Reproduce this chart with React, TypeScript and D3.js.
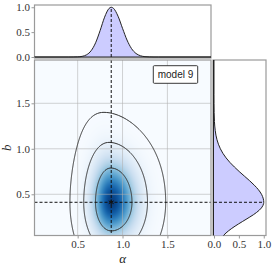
import { useEffect, useRef } from 'react'
import * as d3 from 'd3'

// axis limits
const ALPHA_DOMAIN = [0.019, 1.986]
const B_DOMAIN = [0.047, 1.976]
const PDF_DOMAIN = [-0.02, 1.045]

const ALPHA_TICKS = [0.5, 1.0, 1.5]
const B_TICKS = [0.5, 1.0, 1.5]
const PDF_TICKS = [0.0, 0.5, 1.0]

// best-fit point (alpha, b)
const PEAK = [0.874, 0.412]

// 2D posterior shape: sigma of b below/above peak, sigma of alpha left/right,
// drift of the alpha centre for large b
const B_SIGMA = [0.242, 0.29]
const ALPHA_SIGMA = [0.135, 0.178]
const ALPHA_DRIFT = 0.087

// contour levels (relative density)
const LEVELS = [0.43, 0.076, 0.003]

// marginal of alpha (top panel)
const TOP_ALPHA = [0.0, 0.4, 0.45, 0.5, 0.55, 0.6, 0.65, 0.7, 0.75, 0.8, 0.85, 0.874, 0.9, 0.95, 1.0, 1.05, 1.1, 1.15, 1.2, 1.25, 1.3, 1.35, 1.4, 2.0]
const TOP_PDF = [0, 0, 0.001, 0.003, 0.013, 0.045, 0.126, 0.286, 0.53, 0.8, 0.976, 1.0, 0.977, 0.82, 0.576, 0.341, 0.17, 0.071, 0.025, 0.007, 0.002, 0, 0, 0]

// marginal of b (right panel)
const SIDE_B = [0.0, 0.05, 0.1, 0.15, 0.2, 0.25, 0.3, 0.35, 0.4, 0.412, 0.45, 0.5, 0.55, 0.6, 0.65, 0.7, 0.75, 0.8, 0.85, 0.9, 0.95, 1.0, 1.05, 1.1, 1.15, 1.2, 1.25, 1.3, 1.4, 1.5, 1.6, 2.0]
const SIDE_PDF = [0.12, 0.195, 0.296, 0.424, 0.57, 0.72, 0.855, 0.953, 0.998, 1.0, 0.991, 0.955, 0.893, 0.81, 0.714, 0.61, 0.507, 0.41, 0.32, 0.243, 0.179, 0.128, 0.089, 0.06, 0.039, 0.025, 0.015, 0.009, 0.003, 0.001, 0, 0]

const LABEL = 'model 9'

const W = 274
const H = 268
const MAIN = { left: 34.5, right: 211, top: 60, bottom: 235.5 }
const TOP = { top: 5, bottom: 58 }
const SIDE = { left: 213, right: 266 }

const SPINE = '#9a9a9a'
const INK = '#222'
const FILL = '#ccccff'
const SERIF = '"Liberation Serif", "DejaVu Serif", serif'
const SANS = '"Liberation Sans", Arial, sans-serif'

function density(a: number, b: number) {
  const db = b - PEAK[1]
  const sb = db < 0 ? B_SIGMA[0] : B_SIGMA[1]
  const centre = PEAK[0] - (db > 0 ? ALPHA_DRIFT * db * db * db : 0)
  const da = a - centre
  const sa = da < 0 ? ALPHA_SIGMA[0] : ALPHA_SIGMA[1]
  return Math.exp(-0.5 * (db / sb) ** 2 - 0.5 * (da / sa) ** 2)
}

export default function App() {
  const svgRef = useRef<SVGSVGElement>(null)

  useEffect(() => {
    if (!svgRef.current) return
    const svg = d3.select(svgRef.current)
    svg.selectAll('*').remove()

    const x = d3.scaleLinear().domain(ALPHA_DOMAIN).range([MAIN.left, MAIN.right])
    const y = d3.scaleLinear().domain(B_DOMAIN).range([MAIN.bottom, MAIN.top])
    const pyTop = d3.scaleLinear().domain(PDF_DOMAIN).range([TOP.bottom, TOP.top])
    const pxSide = d3.scaleLinear().domain(PDF_DOMAIN).range([SIDE.left, SIDE.right])

    const defs = svg.append('defs')
    defs.append('clipPath').attr('id', 'clip-main')
      .append('rect')
      .attr('x', MAIN.left).attr('y', MAIN.top)
      .attr('width', MAIN.right - MAIN.left).attr('height', MAIN.bottom - MAIN.top)
    defs.append('clipPath').attr('id', 'clip-top')
      .append('rect')
      .attr('x', MAIN.left).attr('y', TOP.top)
      .attr('width', MAIN.right - MAIN.left).attr('height', TOP.bottom - TOP.top)
    defs.append('clipPath').attr('id', 'clip-side')
      .append('rect')
      .attr('x', SIDE.left).attr('y', MAIN.top)
      .attr('width', SIDE.right - SIDE.left).attr('height', MAIN.bottom - MAIN.top)

    // ---------- main panel ----------
    const main = svg.append('g').attr('clip-path', 'url(#clip-main)')
    main.append('rect')
      .attr('x', MAIN.left).attr('y', MAIN.top)
      .attr('width', MAIN.right - MAIN.left).attr('height', MAIN.bottom - MAIN.top)
      .attr('fill', d3.interpolateBlues(0))

    // heatmap, one cell per pixel
    const cells: { x: number; y: number; v: number }[] = []
    for (let i = Math.floor(MAIN.left); i < Math.ceil(MAIN.right); i++) {
      for (let j = Math.floor(MAIN.top); j < Math.ceil(MAIN.bottom); j++) {
        const v = density(x.invert(i + 0.5), y.invert(j + 0.5))
        if (v > 0.004) cells.push({ x: i, y: j, v })
      }
    }
    main.append('g')
      .attr('shape-rendering', 'crispEdges')
      .selectAll('rect')
      .data(cells)
      .join('rect')
      .attr('x', d => d.x).attr('y', d => d.y)
      .attr('width', 1).attr('height', 1)
      .attr('fill', d => d3.interpolateBlues(d.v * 0.95))

    // grid
    main.append('g').selectAll('line')
      .data(ALPHA_TICKS).join('line')
      .attr('x1', d => x(d)).attr('x2', d => x(d))
      .attr('y1', MAIN.top).attr('y2', MAIN.bottom)
      .attr('stroke', '#b0b0b0').attr('stroke-opacity', 0.7).attr('stroke-width', 0.8)
    main.append('g').selectAll('line')
      .data(B_TICKS).join('line')
      .attr('x1', MAIN.left).attr('x2', MAIN.right)
      .attr('y1', d => y(d)).attr('y2', d => y(d))
      .attr('stroke', '#b0b0b0').attr('stroke-opacity', 0.7).attr('stroke-width', 0.8)

    // contours, grid padded beyond the panel so the clip cuts them
    const pad = 12
    const gx0 = MAIN.left - pad
    const gy0 = MAIN.top - pad
    const nx = Math.round(MAIN.right - MAIN.left + 2 * pad)
    const ny = Math.round(MAIN.bottom - MAIN.top + 2 * pad)
    const values = new Array(nx * ny)
    for (let j = 0; j < ny; j++) {
      for (let i = 0; i < nx; i++) {
        values[j * nx + i] = density(x.invert(gx0 + i + 0.5), y.invert(gy0 + j + 0.5))
      }
    }
    const contours = d3.contours().size([nx, ny]).thresholds(LEVELS)(values)
    const toPixels = d3.geoTransform({
      point(px, py) {
        this.stream.point(gx0 + px, gy0 + py)
      },
    })
    main.append('g').selectAll('path')
      .data(contours).join('path')
      .attr('d', d3.geoPath(toPixels))
      .attr('fill', 'none')
      .attr('stroke', '#333')
      .attr('stroke-width', 1)

    // crosshair at the best-fit point
    main.append('line')
      .attr('x1', x(PEAK[0])).attr('x2', x(PEAK[0]))
      .attr('y1', MAIN.top).attr('y2', MAIN.bottom)
      .attr('stroke', '#111').attr('stroke-width', 1).attr('stroke-dasharray', '3,2')
    main.append('line')
      .attr('x1', MAIN.left).attr('x2', MAIN.right)
      .attr('y1', y(PEAK[1])).attr('y2', y(PEAK[1]))
      .attr('stroke', '#111').attr('stroke-width', 1).attr('stroke-dasharray', '3,2')
    const star = (d3 as any).symbolAsterisk ?? d3.symbolCross
    main.append('path')
      .attr('d', d3.symbol(star, 22)())
      .attr('transform', `translate(${x(PEAK[0])},${y(PEAK[1])})`)
      .attr('fill', 'none').attr('stroke', '#111').attr('stroke-width', 1)

    // legend box
    const box = svg.append('g').attr('transform', `translate(${MAIN.right - 57.7},${MAIN.top + 5.7})`)
    box.append('rect')
      .attr('width', 44.4).attr('height', 17.6)
      .attr('fill', '#fff').attr('stroke', '#222').attr('stroke-width', 0.9).attr('rx', 1)
    box.append('text')
      .attr('x', 22.2).attr('y', 12.4)
      .attr('text-anchor', 'middle')
      .attr('font-family', SANS).attr('font-size', 10)
      .attr('fill', INK)
      .text(LABEL)

    // ---------- spines ----------
    const frames = [
      [MAIN.left, TOP.top, MAIN.right, TOP.bottom],
      [MAIN.left, MAIN.top, MAIN.right, MAIN.bottom],
      [SIDE.left, MAIN.top, SIDE.right, MAIN.bottom],
    ]
    svg.append('g').selectAll('rect')
      .data(frames).join('rect')
      .attr('x', d => d[0]).attr('y', d => d[1])
      .attr('width', d => d[2] - d[0]).attr('height', d => d[3] - d[1])
      .attr('fill', 'none').attr('stroke', SPINE).attr('stroke-width', 1.2)

    // ---------- top panel: alpha marginal ----------
    const topPts = TOP_ALPHA.map((a, i) => [a, TOP_PDF[i]] as [number, number])
    const top = svg.append('g').attr('clip-path', 'url(#clip-top)')
    top.append('path')
      .datum(topPts)
      .attr('d', d3.area<[number, number]>()
        .x(d => x(d[0])).y0(pyTop(0)).y1(d => pyTop(d[1]))
        .curve(d3.curveMonotoneX))
      .attr('fill', FILL)
    top.append('line')
      .attr('x1', MAIN.left).attr('x2', MAIN.right)
      .attr('y1', pyTop(0)).attr('y2', pyTop(0))
      .attr('stroke', INK).attr('stroke-width', 1)
    top.append('path')
      .datum(topPts)
      .attr('d', d3.line<[number, number]>()
        .x(d => x(d[0])).y(d => pyTop(d[1]))
        .curve(d3.curveMonotoneX))
      .attr('fill', 'none').attr('stroke', INK).attr('stroke-width', 1)
    top.append('line')
      .attr('x1', x(PEAK[0])).attr('x2', x(PEAK[0]))
      .attr('y1', pyTop(0)).attr('y2', pyTop(1))
      .attr('stroke', '#111').attr('stroke-width', 1).attr('stroke-dasharray', '3,2')

    // ---------- side panel: b marginal ----------
    const sidePts = SIDE_B.map((b, i) => [b, SIDE_PDF[i]] as [number, number])
    const side = svg.append('g').attr('clip-path', 'url(#clip-side)')
    side.append('path')
      .datum(sidePts)
      .attr('d', d3.area<[number, number]>()
        .y(d => y(d[0])).x0(pxSide(0)).x1(d => pxSide(d[1]))
        .curve(d3.curveMonotoneY))
      .attr('fill', FILL)
    side.append('line')
      .attr('x1', pxSide(0) - 0.5).attr('x2', pxSide(0) - 0.5)
      .attr('y1', MAIN.top).attr('y2', MAIN.bottom)
      .attr('stroke', INK).attr('stroke-width', 1)
    side.append('path')
      .datum(sidePts)
      .attr('d', d3.line<[number, number]>()
        .x(d => pxSide(d[1])).y(d => y(d[0]))
        .curve(d3.curveMonotoneY))
      .attr('fill', 'none').attr('stroke', INK).attr('stroke-width', 1)
    side.append('line')
      .attr('x1', pxSide(0)).attr('x2', pxSide(1))
      .attr('y1', y(PEAK[1])).attr('y2', y(PEAK[1]))
      .attr('stroke', '#111').attr('stroke-width', 1).attr('stroke-dasharray', '3,2')

    // ---------- axes ----------
    const styleAxis = (g: d3.Selection<SVGGElement, unknown, null, undefined>) => {
      g.select('.domain').remove()
      g.selectAll('line').attr('stroke', SPINE)
      g.selectAll('text').attr('font-family', SERIF).attr('font-size', 11).attr('fill', '#333')
    }
    svg.append('g')
      .attr('transform', `translate(0,${MAIN.bottom})`)
      .call(d3.axisBottom(x).tickValues(ALPHA_TICKS).tickFormat(d3.format('.1f')).tickSize(3).tickPadding(2))
      .call(styleAxis)
    svg.append('g')
      .attr('transform', `translate(${MAIN.left},0)`)
      .call(d3.axisLeft(y).tickValues(B_TICKS).tickFormat(d3.format('.1f')).tickSize(3).tickPadding(1.5))
      .call(styleAxis)
    svg.append('g')
      .attr('transform', `translate(${MAIN.left},0)`)
      .call(d3.axisLeft(pyTop).tickValues(PDF_TICKS).tickFormat(d3.format('.1f')).tickSize(3).tickPadding(1.5))
      .call(styleAxis)
    svg.append('g')
      .attr('transform', `translate(0,${MAIN.bottom})`)
      .call(d3.axisBottom(pxSide).tickValues(PDF_TICKS).tickFormat(d3.format('.1f')).tickSize(3).tickPadding(2))
      .call(styleAxis)

    // axis titles
    svg.append('text')
      .attr('x', (MAIN.left + MAIN.right) / 2).attr('y', 263)
      .attr('text-anchor', 'middle')
      .attr('font-family', SERIF).attr('font-style', 'italic').attr('font-size', 13)
      .attr('fill', INK)
      .text('α')
    svg.append('text')
      .attr('transform', `translate(11,${(MAIN.top + MAIN.bottom) / 2}) rotate(-90)`)
      .attr('text-anchor', 'middle')
      .attr('font-family', SERIF).attr('font-style', 'italic').attr('font-size', 13)
      .attr('fill', INK)
      .text('b')
  }, [])

  return (
    <svg
      ref={svgRef}
      width={W}
      height={H}
      style={{ position: 'absolute', left: 0, top: 0, background: '#fff' }}
    />
  )
}
